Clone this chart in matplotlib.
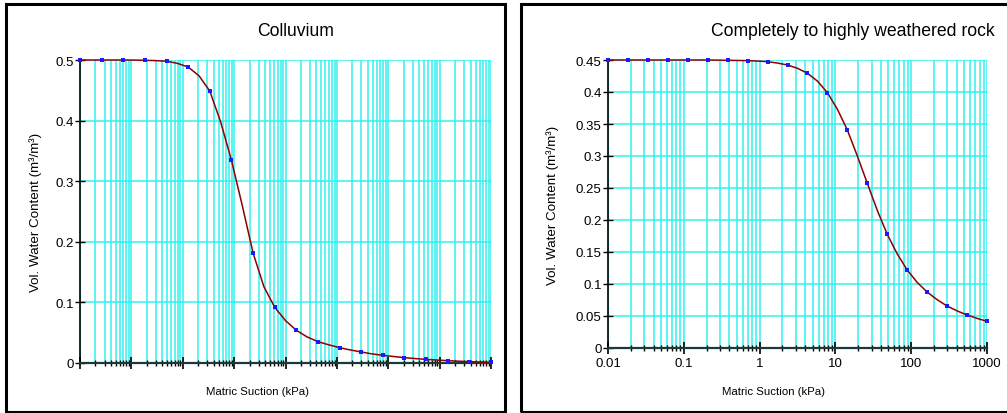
import numpy as np
import matplotlib
matplotlib.use("Agg")
import matplotlib.pyplot as plt
from matplotlib.patches import Rectangle
from matplotlib.ticker import LogLocator, NullFormatter

plt.rcParams['font.family'] = ['Liberation Sans', 'DejaVu Sans']

# colluvium: 20 log-spaced suction points (kPa) and volumetric water content
coll_suction = np.logspace(-2, 6, 20)
coll_vwc = [0.5, 0.5, 0.5, 0.4995, 0.498, 0.4884, 0.4488, 0.3348, 0.1817, 0.092,
            0.054, 0.0352, 0.0253, 0.0182, 0.0127, 0.0088, 0.006, 0.0039, 0.0022, 0.001]
# fitted curve, read at the data points and half-way between them
coll_curve_x = np.logspace(-2, 6, 39)
coll_curve = [0.5, 0.5, 0.5, 0.5, 0.5, 0.4999, 0.4995, 0.499, 0.498, 0.4945,
              0.4884, 0.474, 0.4488, 0.398, 0.3348, 0.26, 0.1817, 0.126, 0.092, 0.070,
              0.054, 0.043, 0.0352, 0.030, 0.0253, 0.0215, 0.0182, 0.015, 0.0127, 0.0107,
              0.0088, 0.0073, 0.006, 0.0049, 0.0039, 0.003, 0.0022, 0.0016, 0.001]

# completely to highly weathered rock
rock_suction = np.logspace(-2, 3, 20)
rock_vwc = [0.45, 0.45, 0.45, 0.45, 0.45, 0.45, 0.4495, 0.449, 0.4474, 0.4422,
            0.4292, 0.399, 0.3406, 0.2573, 0.1776, 0.1219, 0.0875, 0.0656, 0.0516, 0.0417]
rock_curve_x = np.logspace(-2, 3, 39)
rock_curve = [0.45, 0.45, 0.45, 0.45, 0.45, 0.45, 0.45, 0.45, 0.45, 0.45,
              0.45, 0.4498, 0.4495, 0.4493, 0.449, 0.4483, 0.4474, 0.4452, 0.4422, 0.437,
              0.4292, 0.417, 0.399, 0.373, 0.3406, 0.300, 0.2573, 0.215, 0.1776, 0.147,
              0.1219, 0.1025, 0.0875, 0.0755, 0.0656, 0.058, 0.0516, 0.0463, 0.0417]

coll_yticks = [0, 0.1, 0.2, 0.3, 0.4, 0.5]
coll_ylabels = ["0", "0.1", "0.2", "0.3", "0.4", "0.5"]
rock_yticks = [0, 0.05, 0.1, 0.15, 0.2, 0.25, 0.3, 0.35, 0.4, 0.45]
rock_ylabels = ["0", "0.05", "0.1", "0.15", "0.2", "0.25", "0.3", "0.35", "0.4", "0.45"]
rock_xticks = [0.01, 0.1, 1, 10, 100, 1000]
rock_xlabels = ["0.01", "0.1", "1", "10", "100", "1000"]

W, H = 1007, 414
fig = plt.figure(figsize=(W / 100, H / 100), dpi=100)

def box(x0, y0, x1, y1):
    # pixel coords (top-left origin) -> figure fraction
    return [x0 / W, 1 - y1 / H, (x1 - x0) / W, (y1 - y0) / H]

# panel frames
for x0, x1 in [(6, 505), (521, 1012)]:
    fig.patches.append(Rectangle((x0 / W, 1 / H), (x1 - x0) / W, (H - 6) / H,
                                 transform=fig.transFigure, fill=False,
                                 edgecolor='black', linewidth=2.2))

grid_c = '#33f0f0'

def setup(ax, xs, ys, cx, cy, yticks, ylabels, xlim, ylim):
    ax.set_xscale('log')
    ax.set_xlim(*xlim)
    ax.set_ylim(*ylim)
    ax.xaxis.set_major_locator(LogLocator(base=10, numticks=20))
    ax.xaxis.set_minor_locator(LogLocator(base=10, subs=np.arange(2, 10), numticks=100))
    ax.xaxis.set_minor_formatter(NullFormatter())
    ax.set_yticks(yticks)
    ax.set_yticklabels(ylabels)
    ax.grid(True, which='both', axis='x', color=grid_c, linewidth=1.1)
    ax.grid(True, which='major', axis='y', color=grid_c, linewidth=1.1)
    ax.set_axisbelow(True)
    for s in ['top', 'right']:
        ax.spines[s].set_visible(False)
    ax.spines['left'].set_linewidth(1.2)
    ax.spines['bottom'].set_linewidth(1.6)
    ax.spines['bottom'].set_color('#1a3a3a')
    ax.tick_params(axis='y', direction='inout', length=7, width=1, labelsize=9.5, pad=1)
    ax.tick_params(axis='x', which='major', direction='inout', length=9, width=1.2, labelsize=9.5, pad=2)
    ax.tick_params(axis='x', which='minor', direction='inout', length=5, width=1)
    ax.plot(cx, cy, color='#8b0000', linewidth=1.1, zorder=3, clip_on=False)
    ax.plot(xs, ys, linestyle='none', marker='s', markersize=2.4, markeredgewidth=0,
            color='#1a1aff', zorder=4, clip_on=False)
    ax.set_ylabel("Vol. Water Content (m³/m³)", fontsize=9.6)

ax1 = fig.add_axes(box(80, 61, 491, 364))
setup(ax1, coll_suction, coll_vwc, coll_curve_x, coll_curve, coll_yticks, coll_ylabels,
      (0.01, 1e6), (0, 0.5))
ax1.xaxis.set_major_formatter(NullFormatter())
ax1.yaxis.set_label_coords((42 - 80) / 411, 0.5)
fig.text(258 / W, 1 - 392 / H, "Matric Suction (kPa)", fontsize=8.2, ha='center', va='center')
fig.text(296 / W, 1 - 31 / H, "Colluvium", fontsize=12.7, ha='center', va='center')

ax2 = fig.add_axes(box(608, 61, 987, 349))
setup(ax2, rock_suction, rock_vwc, rock_curve_x, rock_curve, rock_yticks, rock_ylabels,
      (0.01, 1000), (0, 0.45))
ax2.set_xticks(rock_xticks)
ax2.set_xticklabels(rock_xlabels)
ax2.yaxis.set_label_coords((559 - 608) / 379, 0.5)
fig.text(773 / W, 1 - 392 / H, "Matric Suction (kPa)", fontsize=8.2, ha='center', va='center')
fig.text(853 / W, 1 - 31 / H, "Completely to highly weathered rock", fontsize=12.7, ha='center', va='center')

fig.savefig("out.png", dpi=100)
